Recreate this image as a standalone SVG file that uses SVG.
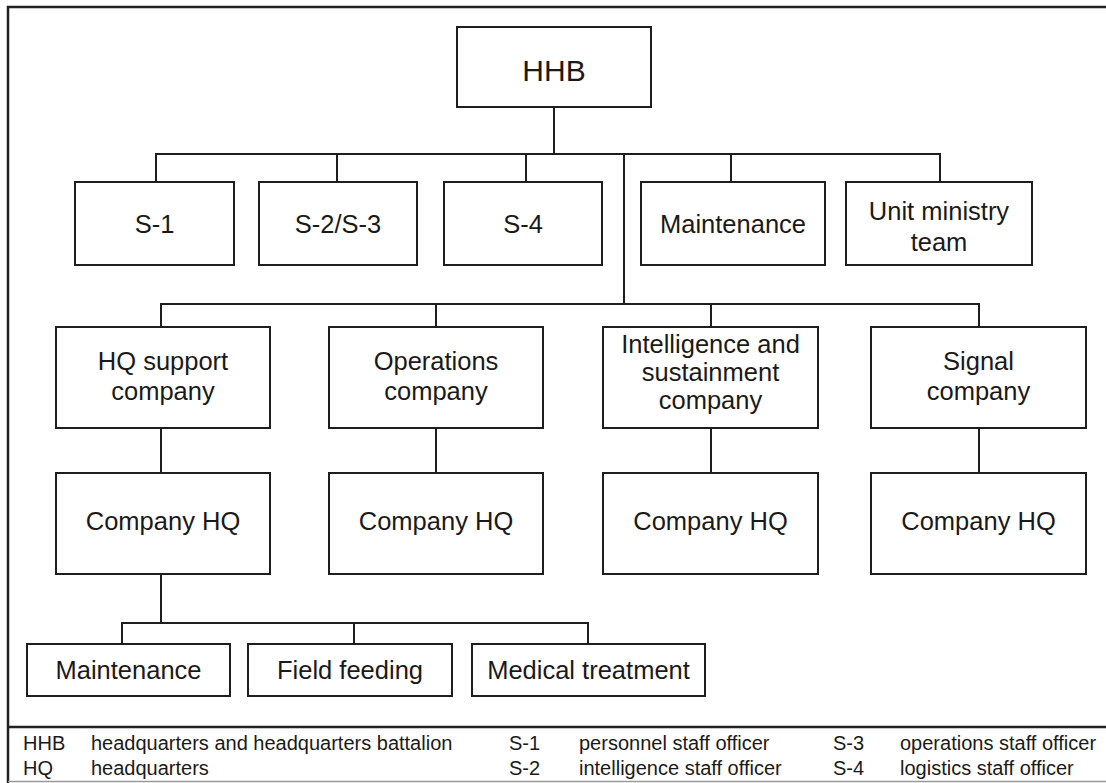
<svg xmlns="http://www.w3.org/2000/svg" width="1106" height="783" viewBox="0 0 1106 783">
  <style>
    .box { fill: #ffffff; stroke: #1e1e1e; stroke-width: 2; }
    .wire { fill: none; stroke: #1e1e1e; stroke-width: 2; }
    .frame { fill: none; stroke: #222222; stroke-width: 2.5; }
    .lbl { font-family: "Liberation Sans", Arial, sans-serif; font-size: 25.5px; fill: #1a1a1a; text-anchor: middle; }
    .top { font-size: 30px; }
    .key { font-family: "Liberation Sans", Arial, sans-serif; font-size: 20px; fill: #1a1a1a; }
  </style>

  <rect x="0" y="0" width="1106" height="783" fill="#ffffff"/>

  <!-- outer frame and legend divider -->
  <g id="frame">
    <path class="frame" d="M8 783 V7 H1106"/>
    <line class="frame" x1="8" y1="727" x2="1106" y2="727"/>
    <line x1="8" y1="781.5" x2="1106" y2="781.5" stroke="#9a9a9a" stroke-width="1.5"/>
  </g>

  <!-- connectors -->
  <g id="connectors">
    <!-- HHB to staff row -->
    <path class="wire" d="M554 107 V154"/>
    <path class="wire" d="M156 182 V154 H940 V182"/>
    <path class="wire" d="M337 154 V182 M526 154 V182 M731 154 V182"/>
    <!-- trunk to companies -->
    <path class="wire" d="M624 154 V304"/>
    <path class="wire" d="M161 327 V304 H979 V327"/>
    <path class="wire" d="M436 304 V327 M711 304 V327"/>
    <!-- company to company HQ -->
    <path class="wire" d="M161 428 V473 M436 428 V473 M711 428 V473 M979 428 V473"/>
    <!-- HQ support company HQ to sections -->
    <path class="wire" d="M161 574 V623"/>
    <path class="wire" d="M122 644 V623 H588 V644"/>
    <path class="wire" d="M354 623 V644"/>
  </g>

  <!-- battalion -->
  <g id="hhb">
    <rect class="box" x="457" y="27" width="194" height="80"/>
    <text class="lbl top" x="554" y="81">HHB</text>
  </g>

  <!-- staff row -->
  <g id="s1">
    <rect class="box" x="75" y="182" width="159" height="83"/>
    <text class="lbl" x="154.5" y="233">S-1</text>
  </g>
  <g id="s2s3">
    <rect class="box" x="259" y="182" width="158" height="83"/>
    <text class="lbl" x="338" y="233">S-2/S-3</text>
  </g>
  <g id="s4">
    <rect class="box" x="444" y="182" width="158" height="83"/>
    <text class="lbl" x="523" y="233">S-4</text>
  </g>
  <g id="maintenance-staff">
    <rect class="box" x="641" y="182" width="184" height="83"/>
    <text class="lbl" x="733" y="233">Maintenance</text>
  </g>
  <g id="unit-ministry">
    <rect class="box" x="846" y="182" width="186" height="83"/>
    <text class="lbl" x="939" y="220">Unit ministry</text>
    <text class="lbl" x="939" y="251">team</text>
  </g>

  <!-- companies -->
  <g id="hq-support-company">
    <rect class="box" x="56" y="327" width="214" height="101"/>
    <text class="lbl" x="163" y="370">HQ support</text>
    <text class="lbl" x="163" y="400">company</text>
  </g>
  <g id="operations-company">
    <rect class="box" x="329" y="327" width="214" height="101"/>
    <text class="lbl" x="436" y="370">Operations</text>
    <text class="lbl" x="436" y="400">company</text>
  </g>
  <g id="intel-sustainment-company">
    <rect class="box" x="603" y="327" width="215" height="101"/>
    <text class="lbl" x="710.5" y="353">Intelligence and</text>
    <text class="lbl" x="710.5" y="381">sustainment</text>
    <text class="lbl" x="710.5" y="409">company</text>
  </g>
  <g id="signal-company">
    <rect class="box" x="871" y="327" width="215" height="101"/>
    <text class="lbl" x="978.5" y="370">Signal</text>
    <text class="lbl" x="978.5" y="400">company</text>
  </g>

  <!-- company headquarters -->
  <g id="hq-support-company-hq">
    <rect class="box" x="56" y="473" width="214" height="101"/>
    <text class="lbl" x="163" y="530">Company HQ</text>
  </g>
  <g id="operations-company-hq">
    <rect class="box" x="329" y="473" width="214" height="101"/>
    <text class="lbl" x="436" y="530">Company HQ</text>
  </g>
  <g id="intel-sustainment-company-hq">
    <rect class="box" x="603" y="473" width="215" height="101"/>
    <text class="lbl" x="710.5" y="530">Company HQ</text>
  </g>
  <g id="signal-company-hq">
    <rect class="box" x="871" y="473" width="215" height="101"/>
    <text class="lbl" x="978.5" y="530">Company HQ</text>
  </g>

  <!-- HQ support sections -->
  <g id="maintenance-section">
    <rect class="box" x="27" y="644" width="203" height="52"/>
    <text class="lbl" x="128.5" y="679">Maintenance</text>
  </g>
  <g id="field-feeding">
    <rect class="box" x="248" y="644" width="204" height="52"/>
    <text class="lbl" x="350" y="679">Field feeding</text>
  </g>
  <g id="medical-treatment">
    <rect class="box" x="472" y="644" width="233" height="52"/>
    <text class="lbl" x="588.5" y="679">Medical treatment</text>
  </g>

  <!-- abbreviation key -->
  <g id="legend">
    <text class="key" x="23" y="750">HHB</text>
    <text class="key" x="91" y="750">headquarters and headquarters battalion</text>
    <text class="key" x="23" y="775">HQ</text>
    <text class="key" x="91" y="775">headquarters</text>
    <text class="key" x="509" y="750">S-1</text>
    <text class="key" x="579" y="750">personnel staff officer</text>
    <text class="key" x="509" y="775">S-2</text>
    <text class="key" x="579" y="775">intelligence staff officer</text>
    <text class="key" x="833" y="750">S-3</text>
    <text class="key" x="900" y="750">operations staff officer</text>
    <text class="key" x="833" y="775">S-4</text>
    <text class="key" x="900" y="775">logistics staff officer</text>
  </g>
</svg>
